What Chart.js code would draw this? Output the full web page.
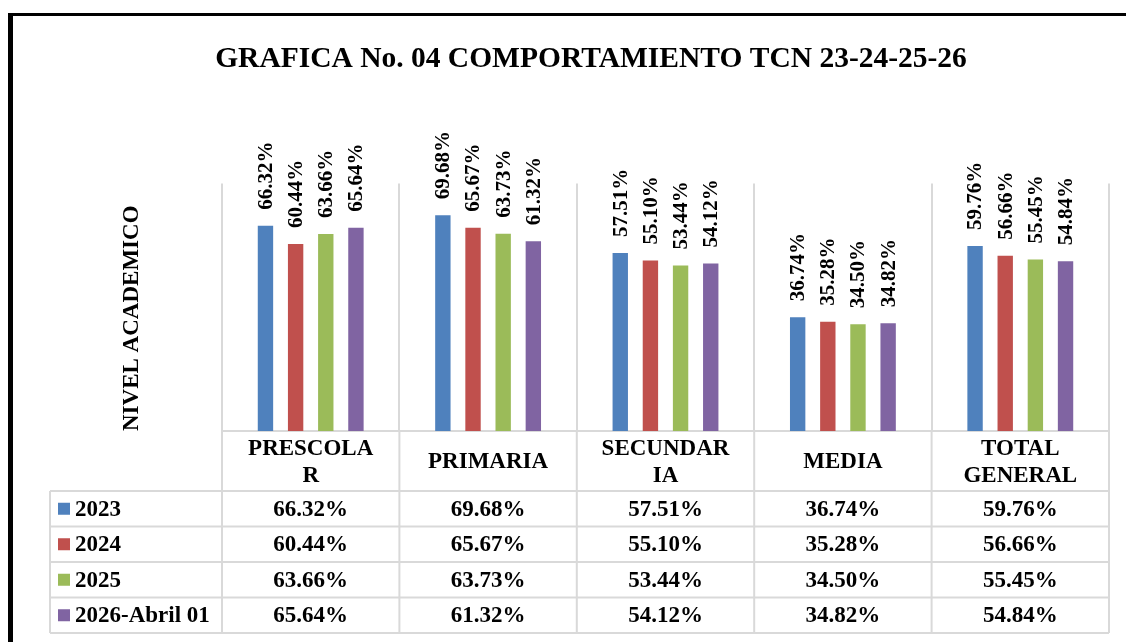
<!DOCTYPE html>
<html>
<head>
<meta charset="utf-8">
<title>Grafica 04</title>
<script src="https://cdn.jsdelivr.net/npm/chart.js@4/dist/chart.umd.min.js"></script>
<style>
  body { margin: 0; background: #fff; overflow: hidden; }
  #marco { position: absolute; left: 8px; top: 13px; width: 1200px; height: 700px;
           border-left: 5px solid #000; border-top: 3px solid #000; }
  #myChart { position: absolute; left: 0; top: 0; }
</style>
</head>
<body>
<div id="marco"></div>
<canvas id="myChart" width="1126" height="642"></canvas>
<script>
// datos
const niveles = [["PRESCOLA", "R"], "PRIMARIA", ["SECUNDAR", "IA"], "MEDIA", ["TOTAL", "GENERAL"]];
const periodos = ["2023", "2024", "2025", "2026-Abril 01"];
const datos2023 = [66.32, 69.68, 57.51, 36.74, 59.76];
const datos2024 = [60.44, 65.67, 55.10, 35.28, 56.66];
const datos2025 = [63.66, 63.73, 53.44, 34.50, 55.45];
const datos2026 = [65.64, 61.32, 54.12, 34.82, 54.84];
const colores = ["#4F81BD", "#C0504D", "#9BBB59", "#8064A2"];

const fuente = "'Liberation Serif', 'Times New Roman', serif";
const gris = "#d9d9d9";

function porcentaje(v) {
  return v.toFixed(2) + "%";
}

// etiquetas rotadas encima de cada barra
const etiquetasBarras = {
  id: "etiquetasBarras",
  afterDatasetsDraw(chart) {
    const ctx = chart.ctx;
    ctx.save();
    ctx.font = "bold 21px " + fuente;
    ctx.fillStyle = "#000";
    ctx.textAlign = "left";
    ctx.textBaseline = "middle";
    chart.data.datasets.forEach((ds, i) => {
      chart.getDatasetMeta(i).data.forEach((bar, j) => {
        ctx.save();
        ctx.translate(bar.x, bar.y - 16);
        ctx.rotate(-Math.PI / 2);
        ctx.fillText(porcentaje(ds.data[j]), 0, 1);
        ctx.restore();
      });
    });
    ctx.restore();
  },
};

// tabla de datos debajo del eje
const tablaDatos = {
  id: "tablaDatos",
  afterDraw(chart) {
    const ctx = chart.ctx;
    const x = chart.scales.x;
    const n = niveles.length;
    const ancho = (x.right - x.left) / n;
    const filaH = 35.5;
    const tablaTop = x.top + 60;
    const tablaBottom = tablaTop + filaH * periodos.length;
    const izq = 50;

    ctx.save();
    ctx.strokeStyle = gris;
    ctx.lineWidth = 2;
    ctx.beginPath();
    for (let k = 0; k <= periodos.length; k++) {
      const y = tablaTop + k * filaH;
      ctx.moveTo(izq, y);
      ctx.lineTo(x.right, y);
    }
    ctx.moveTo(izq, tablaTop);
    ctx.lineTo(izq, tablaBottom);
    for (let i = 0; i <= n; i++) {
      const xx = x.left + i * ancho;
      ctx.moveTo(xx, x.top);
      ctx.lineTo(xx, tablaBottom);
    }
    ctx.stroke();

    ctx.font = "bold 23px " + fuente;
    ctx.fillStyle = "#000";
    ctx.textBaseline = "middle";
    chart.data.datasets.forEach((ds, k) => {
      const yc = tablaTop + k * filaH + filaH / 2 + 1;
      ctx.fillStyle = ds.backgroundColor;
      ctx.fillRect(izq + 8, yc - 7, 12, 12);
      ctx.fillStyle = "#000";
      ctx.textAlign = "left";
      ctx.fillText(ds.label, izq + 25, yc);
      ctx.textAlign = "center";
      ds.data.forEach((v, j) => {
        ctx.fillText(porcentaje(v), x.getPixelForValue(j), yc);
      });
    });
    ctx.restore();
  },
};

const ctx = document.getElementById("myChart").getContext("2d");
const myChart = new Chart(ctx, {
  type: "bar",
  data: {
    labels: niveles,
    datasets: [
      { label: periodos[0], data: datos2023, backgroundColor: colores[0] },
      { label: periodos[1], data: datos2024, backgroundColor: colores[1] },
      { label: periodos[2], data: datos2025, backgroundColor: colores[2] },
      { label: periodos[3], data: datos2026, backgroundColor: colores[3] },
    ],
  },
  options: {
    responsive: false,
    animation: false,
    layout: { padding: { left: 73, right: 17, top: 0, bottom: 0 } },
    datasets: {
      bar: { categoryPercentage: 0.68, barPercentage: 0.51 },
    },
    plugins: {
      legend: { display: false },
      tooltip: { enabled: false },
      title: {
        display: true,
        text: "GRAFICA No. 04 COMPORTAMIENTO TCN 23-24-25-26",
        color: "#000",
        font: { family: fuente, size: 29.5, weight: "bold", lineHeight: 1.2 },
        padding: { top: 42, bottom: 106 },
      },
    },
    scales: {
      x: {
        grid: { display: true, color: gris, lineWidth: 2, drawTicks: false, offset: true },
        border: { display: true, color: gris, width: 2 },
        ticks: {
          color: "#000",
          font: { family: fuente, size: 23, weight: "bold", lineHeight: 1.17 },
          maxRotation: 0,
          autoSkip: false,
          crossAlign: "center",
          padding: 18,
        },
        afterFit(scale) {
          scale.height = 211;
        },
      },
      y: {
        min: 0,
        max: 80,
        ticks: { display: false },
        grid: { display: false },
        border: { display: false },
        title: {
          display: true,
          text: "NIVEL ACADEMICO",
          align: "start",
          color: "#000",
          font: { family: fuente, size: 23, weight: "bold", lineHeight: 1.2 },
          padding: 45,
        },
        afterFit(scale) {
          scale.width = 149;
        },
      },
    },
  },
  plugins: [etiquetasBarras, tablaDatos],
});
</script>
</body>
</html>
